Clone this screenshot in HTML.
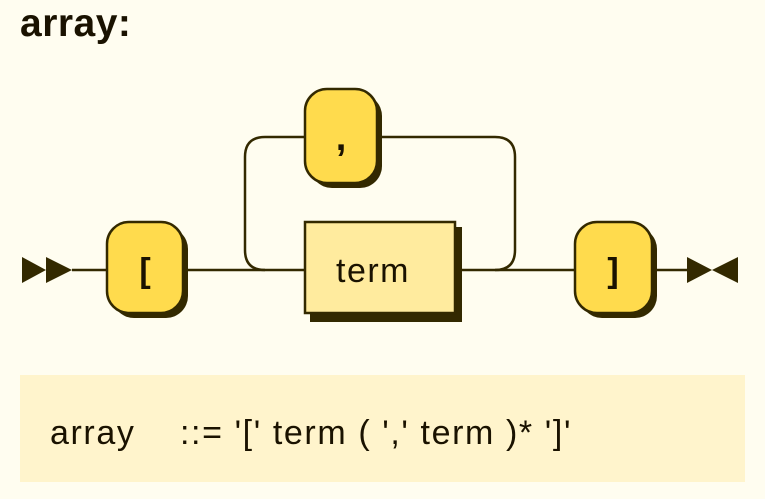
<!DOCTYPE html>
<html><head><meta charset="utf-8"><style>
html,body{margin:0;padding:0;background:#fffdf0;}
body{width:765px;height:499px;position:relative;overflow:hidden;font-family:"Liberation Sans",sans-serif;}
.t{position:absolute;left:20px;top:2px;font-weight:bold;font-size:39px;color:#1a1200;line-height:44px;letter-spacing:0.5px;}
.ebnf{position:absolute;left:20px;top:375px;width:725px;height:107px;background:#fff4cc;}
.ebnf span{position:absolute;top:40px;font-size:34px;color:#1a1200;line-height:36px;white-space:pre;letter-spacing:1.6px;}
</style></head><body>
<div class="t">array:</div>
<svg width="765" height="499" style="position:absolute;left:0;top:0" xmlns="http://www.w3.org/2000/svg">
<g fill="#332900">
<polygon points="22,257 46,270 22,283"/><polygon points="46,257 72,270 46,283"/>
<polygon points="687,257 712,270 687,283"/><polygon points="738,257 712,270 738,283"/>
</g>
<g fill="none" stroke="#332900" stroke-width="2.5">
<line x1="72" y1="270" x2="107" y2="270"/>
<line x1="184" y1="270" x2="305" y2="270"/>
<line x1="455" y1="270" x2="575" y2="270"/>
<line x1="652" y1="270" x2="687" y2="270"/>
<path d="M305,137 H265 Q245,137 245,157 V250 Q245,270 265,270"/>
<path d="M377,137 H495 Q515,137 515,157 V250 Q515,270 495,270"/>
</g>
<g fill="#332900">
<rect x="112" y="227" width="76" height="91" rx="22"/>
<rect x="310" y="94" width="72" height="94" rx="22"/>
<rect x="580" y="227" width="77" height="91" rx="22"/>
<rect x="310" y="227" width="152" height="95"/>
</g>
<g stroke="#332900" stroke-width="2.5">
<rect x="107" y="222" width="76" height="91" rx="22" fill="#ffdb4d"/>
<rect x="305" y="89" width="72" height="94" rx="22" fill="#ffdb4d"/>
<rect x="575" y="222" width="77" height="91" rx="22" fill="#ffdb4d"/>
<rect x="305" y="222" width="150" height="91" fill="#ffeb9e"/>
</g>
<g font-family="Liberation Sans, sans-serif" font-size="34" fill="#1a1200" text-anchor="middle">
<text x="145" y="282" font-weight="bold">[</text>
<text x="341" y="150" font-weight="bold" font-size="38">,</text>
<text x="613" y="282" font-weight="bold">]</text>
<text x="373" y="282" letter-spacing="1.5">term</text>
</g>
</svg>
<div class="ebnf"><span style="left:30px">array</span><span style="left:160px">::= '[' term ( ',' term )* ']'</span></div>
</body></html>
